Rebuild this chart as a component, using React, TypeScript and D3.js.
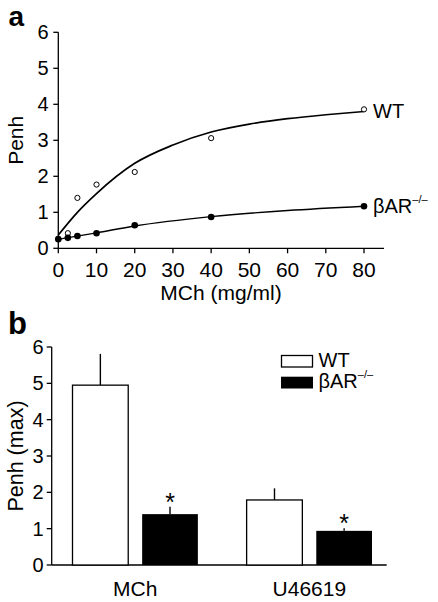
import React from 'react';
import * as d3 from 'd3';

// Panel a data
const doseTicks = [0, 10, 20, 30, 40, 50, 60, 70, 80];
const penhTicks = [0, 1, 2, 3, 4, 5, 6];
const wtDose = [0, 2.5, 5, 10, 20, 40, 80];
const wtPenh = [0.27, 0.42, 1.4, 1.77, 2.12, 3.06, 3.86];
const koDose = [0, 2.5, 5, 10, 20, 40, 80];
const koPenh = [0.25, 0.29, 0.34, 0.42, 0.64, 0.87, 1.17];
const wtFitDose = [0, 5, 10, 20, 30, 40, 50, 60, 70, 80];
const wtFitPenh = [0.37, 1.0, 1.52, 2.36, 2.87, 3.23, 3.45, 3.6, 3.71, 3.8];
const koFitDose = [0, 10, 20, 40, 60, 80];
const koFitPenh = [0.25, 0.43, 0.62, 0.88, 1.05, 1.17];

// Panel b data
const agonists = ['MCh', 'U46619'];
const genotypes = ['WT', 'KO'];
const wtMax = [4.95, 1.79];
const wtErr = [0.86, 0.32];
const koMax = [1.4, 0.94];
const koErr = [0.2, 0.07];
const significant = [true, true];

const FONT = '"Liberation Sans", Arial, Helvetica, sans-serif';

export default function App() {
  // Panel a scales
  const xa = d3.scaleLinear().domain([0, 80]).range([58.3, 364]);
  const ya = d3.scaleLinear().domain([0, 6]).range([248.3, 32.3]);
  const curve = d3.line<[number, number]>()
    .x(d => xa(d[0]))
    .y(d => ya(d[1]))
    .curve(d3.curveMonotoneX);
  const wtFit = wtFitDose.map((d, i) => [d, wtFitPenh[i]] as [number, number]);
  const koFit = koFitDose.map((d, i) => [d, koFitPenh[i]] as [number, number]);

  // Panel b scales
  const yb = d3.scaleLinear().domain([0, 6]).range([565, 347]);
  const x0 = d3.scaleBand<string>().domain(agonists).range([72.5, 372]).paddingInner(0.28);
  const x1 = d3.scaleBand<string>().domain(genotypes).range([0, x0.bandwidth()]).paddingInner(0.2);

  const axisColor = '#000';
  const sw = 1.3;

  return (
    <svg width={438} height={602} style={{ position: 'absolute', left: 0, top: 0, background: '#fff' }}
      fontFamily={FONT}>
      <rect x={0} y={0} width={438} height={602} fill="#fff" />
      {/* Panel a */}
      <text x={8.5} y={25.5} fontSize={28} fontWeight="bold">a</text>
      <line x1={xa(0)} x2={xa(0)} y1={ya(0)} y2={ya(6)} stroke={axisColor} strokeWidth={sw} />
      <line x1={xa(0)} x2={384} y1={ya(0)} y2={ya(0)} stroke={axisColor} strokeWidth={sw} />
      {penhTicks.map(t => (
        <g key={'ya' + t}>
          <line x1={xa(0) - 5} x2={xa(0)} y1={ya(t)} y2={ya(t)} stroke={axisColor} strokeWidth={sw} />
          <text x={48.5} y={ya(t) + 7} fontSize={20} textAnchor="end">{t}</text>
        </g>
      ))}
      {doseTicks.map(t => (
        <g key={'xa' + t}>
          <line x1={xa(t)} x2={xa(t)} y1={ya(0)} y2={ya(0) + 5} stroke={axisColor} strokeWidth={sw} />
          <text x={xa(t)} y={276.5} fontSize={21} textAnchor="middle">{t}</text>
        </g>
      ))}
      <text x={221} y={300} fontSize={21} textAnchor="middle">MCh (mg/ml)</text>
      <text transform={`translate(23,${(ya(0) + ya(6)) / 2}) rotate(-90)`} fontSize={21} textAnchor="middle">Penh</text>

      <path d={curve(wtFit) || ''} fill="none" stroke="#000" strokeWidth={1.7} />
      <path d={curve(koFit) || ''} fill="none" stroke="#000" strokeWidth={1.4} />
      {wtDose.map((d, i) => (
        <circle key={'wt' + i} cx={xa(d)} cy={ya(wtPenh[i])} r={2.6} fill="#fff" stroke="#000" strokeWidth={1} />
      ))}
      {koDose.map((d, i) => (
        <circle key={'ko' + i} cx={xa(d)} cy={ya(koPenh[i])} r={3.3} fill="#000" />
      ))}
      <text x={xa(80) + 9} y={ya(wtPenh[wtPenh.length - 1]) + 8.5} fontSize={20}>WT</text>
      <text x={xa(80) + 9} y={ya(koPenh[koPenh.length - 1]) + 7} fontSize={20}>
        βAR<tspan fontSize={11} dy={-10}>–/–</tspan>
      </text>

      {/* Panel b */}
      <text x={8} y={334} fontSize={31} fontWeight="bold">b</text>
      <line x1={51.7} x2={51.7} y1={yb(0)} y2={yb(6)} stroke={axisColor} strokeWidth={sw} />
      <line x1={51.7} x2={386.7} y1={yb(0)} y2={yb(0)} stroke={axisColor} strokeWidth={sw} />
      {penhTicks.map(t => (
        <g key={'yb' + t}>
          <line x1={46.7} x2={51.7} y1={yb(t)} y2={yb(t)} stroke={axisColor} strokeWidth={sw} />
          <text x={43.5} y={yb(t) + 7} fontSize={20} textAnchor="end">{t}</text>
        </g>
      ))}
      <text transform={`translate(23,${(yb(0) + yb(6)) / 2}) rotate(-90)`} fontSize={21.5} textAnchor="middle">Penh (max)</text>
      {agonists.map((a, i) => {
        const gx = x0(a) as number;
        const bw = x1.bandwidth();
        const wx = gx + (x1('WT') as number);
        const kx = gx + (x1('KO') as number);
        return (
          <g key={a}>
            <line x1={wx + bw / 2} x2={wx + bw / 2} y1={yb(wtMax[i])} y2={yb(wtMax[i] + wtErr[i])} stroke="#000" strokeWidth={1.4} />
            <rect x={wx} y={yb(wtMax[i])} width={bw} height={yb(0) - yb(wtMax[i])} fill="#fff" stroke="#000" strokeWidth={1.3} />
            <line x1={kx + bw / 2} x2={kx + bw / 2} y1={yb(koMax[i])} y2={yb(koMax[i] + koErr[i])} stroke="#000" strokeWidth={1.4} />
            <rect x={kx} y={yb(koMax[i])} width={bw} height={yb(0) - yb(koMax[i])} fill="#000" />
            {significant[i] && (
              <text x={kx + bw / 2} y={yb(koMax[i] + koErr[i]) + 4} fontSize={25} textAnchor="middle">*</text>
            )}
            <text x={gx + x0.bandwidth() / 2} y={596} fontSize={21} textAnchor="middle">{a}</text>
          </g>
        );
      })}
      {/* Legend */}
      <rect x={281.5} y={355.5} width={31} height={11.5} fill="#fff" stroke="#000" strokeWidth={1.3} />
      <text x={318.5} y={366.7} fontSize={20}>WT</text>
      <rect x={281} y={376.7} width={32} height={11.8} fill="#000" />
      <text x={318.5} y={388.3} fontSize={20}>
        βAR<tspan fontSize={11} dy={-10}>–/–</tspan>
      </text>
    </svg>
  );
}
